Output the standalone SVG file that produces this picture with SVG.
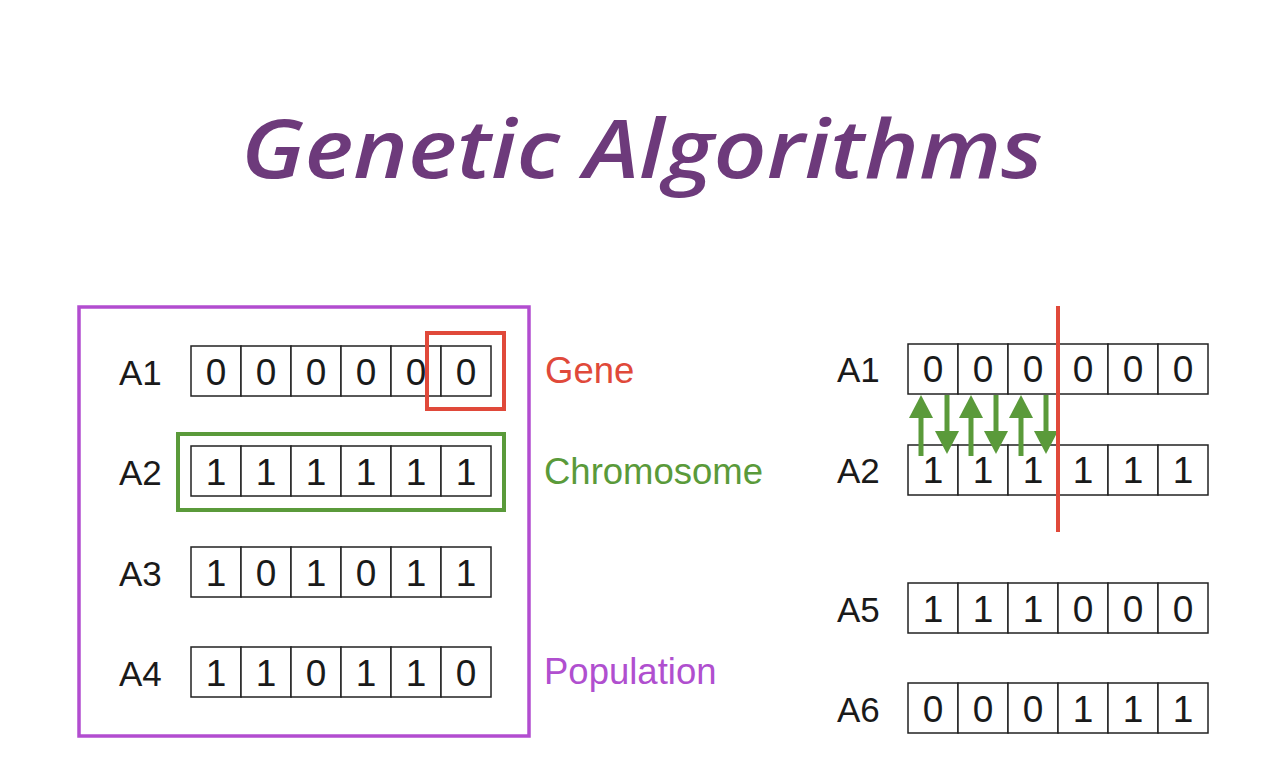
<svg xmlns="http://www.w3.org/2000/svg" width="1268" height="778" viewBox="0 0 1268 778">
  <defs>
    <style>
      .cell { fill: #ffffff; stroke: #222222; stroke-width: 1.5; }
      .dig { font-family: "Liberation Sans", Arial, sans-serif; font-size: 37px; fill: #1a1a1a; text-anchor: middle; }
      .lbl { font-family: "Liberation Sans", Arial, sans-serif; font-size: 35px; fill: #1a1a1a; }
      .term { font-family: "Liberation Sans", Arial, sans-serif; font-size: 36.5px; }
      .arrow { stroke: #5a9a3a; stroke-width: 5; fill: none; }
      .head { fill: #5a9a3a; }
    </style>
    <g id="row">
      <rect class="cell" x="0" y="0" width="50" height="50"/>
      <rect class="cell" x="50" y="0" width="50" height="50"/>
      <rect class="cell" x="100" y="0" width="50" height="50"/>
      <rect class="cell" x="150" y="0" width="50" height="50"/>
      <rect class="cell" x="200" y="0" width="50" height="50"/>
      <rect class="cell" x="250" y="0" width="50" height="50"/>
    </g>
  </defs>
  <rect x="0" y="0" width="1268" height="778" fill="#ffffff"/>

  <g id="title">
    <text x="241" y="178" font-family="'Open Sans', 'Noto Sans', sans-serif" font-style="italic" font-weight="600" font-size="82" fill="#6d3a7b" textLength="802" lengthAdjust="spacingAndGlyphs">Genetic Algorithms</text>
  </g>

  <g id="population">
    <rect x="79" y="307" width="450" height="429" fill="none" stroke="#b24dd0" stroke-width="3.5"/>
    <text class="term" x="544" y="684" fill="#b04fcf">Population</text>
  </g>

  <g id="left-A1">
    <text class="lbl" x="119" y="385">A1</text>
    <use href="#row" x="191" y="346"/>
    <text class="dig" x="216" y="385">0</text><text class="dig" x="266" y="385">0</text><text class="dig" x="316" y="385">0</text><text class="dig" x="366" y="385">0</text><text class="dig" x="416" y="385">0</text><text class="dig" x="466" y="385">0</text>
  </g>
  <g id="gene">
    <rect x="427" y="333" width="77" height="76" fill="none" stroke="#e0493a" stroke-width="4"/>
    <text class="term" x="545" y="383" fill="#e0493a">Gene</text>
  </g>

  <g id="left-A2">
    <text class="lbl" x="119" y="485">A2</text>
    <use href="#row" x="191" y="446"/>
    <text class="dig" x="216" y="485">1</text><text class="dig" x="266" y="485">1</text><text class="dig" x="316" y="485">1</text><text class="dig" x="366" y="485">1</text><text class="dig" x="416" y="485">1</text><text class="dig" x="466" y="485">1</text>
  </g>
  <g id="chromosome">
    <rect x="178" y="434" width="326" height="76" fill="none" stroke="#5a9a3a" stroke-width="4"/>
    <text class="term" x="544" y="484" fill="#5a9a3a">Chromosome</text>
  </g>

  <g id="left-A3">
    <text class="lbl" x="119" y="586">A3</text>
    <use href="#row" x="191" y="547"/>
    <text class="dig" x="216" y="586">1</text><text class="dig" x="266" y="586">0</text><text class="dig" x="316" y="586">1</text><text class="dig" x="366" y="586">0</text><text class="dig" x="416" y="586">1</text><text class="dig" x="466" y="586">1</text>
  </g>

  <g id="left-A4">
    <text class="lbl" x="119" y="686">A4</text>
    <use href="#row" x="191" y="647"/>
    <text class="dig" x="216" y="686">1</text><text class="dig" x="266" y="686">1</text><text class="dig" x="316" y="686">0</text><text class="dig" x="366" y="686">1</text><text class="dig" x="416" y="686">1</text><text class="dig" x="466" y="686">0</text>
  </g>

  <g id="right-A1">
    <text class="lbl" x="837" y="382">A1</text>
    <use href="#row" x="908" y="344"/>
    <text class="dig" x="933" y="382">0</text><text class="dig" x="983" y="382">0</text><text class="dig" x="1033" y="382">0</text><text class="dig" x="1083" y="382">0</text><text class="dig" x="1133" y="382">0</text><text class="dig" x="1183" y="382">0</text>
  </g>

  <g id="right-A2">
    <text class="lbl" x="837" y="483">A2</text>
    <use href="#row" x="908" y="445"/>
    <text class="dig" x="933" y="483">1</text><text class="dig" x="983" y="483">1</text><text class="dig" x="1033" y="483">1</text><text class="dig" x="1083" y="483">1</text><text class="dig" x="1133" y="483">1</text><text class="dig" x="1183" y="483">1</text>
  </g>

  <g id="right-A5">
    <text class="lbl" x="837" y="622">A5</text>
    <use href="#row" x="908" y="583"/>
    <text class="dig" x="933" y="622">1</text><text class="dig" x="983" y="622">1</text><text class="dig" x="1033" y="622">1</text><text class="dig" x="1083" y="622">0</text><text class="dig" x="1133" y="622">0</text><text class="dig" x="1183" y="622">0</text>
  </g>

  <g id="right-A6">
    <text class="lbl" x="837" y="722">A6</text>
    <use href="#row" x="908" y="683"/>
    <text class="dig" x="933" y="722">0</text><text class="dig" x="983" y="722">0</text><text class="dig" x="1033" y="722">0</text><text class="dig" x="1083" y="722">1</text><text class="dig" x="1133" y="722">1</text><text class="dig" x="1183" y="722">1</text>
  </g>

  <g id="connectors">
    <line class="arrow" x1="921" y1="456" x2="921" y2="414"/>
    <polygon class="head" points="921,395 909,418 933,418"/>
    <line class="arrow" x1="947" y1="395" x2="947" y2="436"/>
    <polygon class="head" points="947,454 935,431 959,431"/>
    <line class="arrow" x1="971" y1="456" x2="971" y2="414"/>
    <polygon class="head" points="971,395 959,418 983,418"/>
    <line class="arrow" x1="996" y1="395" x2="996" y2="436"/>
    <polygon class="head" points="996,454 984,431 1008,431"/>
    <line class="arrow" x1="1021" y1="456" x2="1021" y2="414"/>
    <polygon class="head" points="1021,395 1009,418 1033,418"/>
    <line class="arrow" x1="1046" y1="395" x2="1046" y2="436"/>
    <polygon class="head" points="1046,454 1034,431 1058,431"/>
  </g>

  <g id="crossover-point">
    <line x1="1058" y1="306" x2="1058" y2="532" stroke="#e0493a" stroke-width="4"/>
  </g>
</svg>
